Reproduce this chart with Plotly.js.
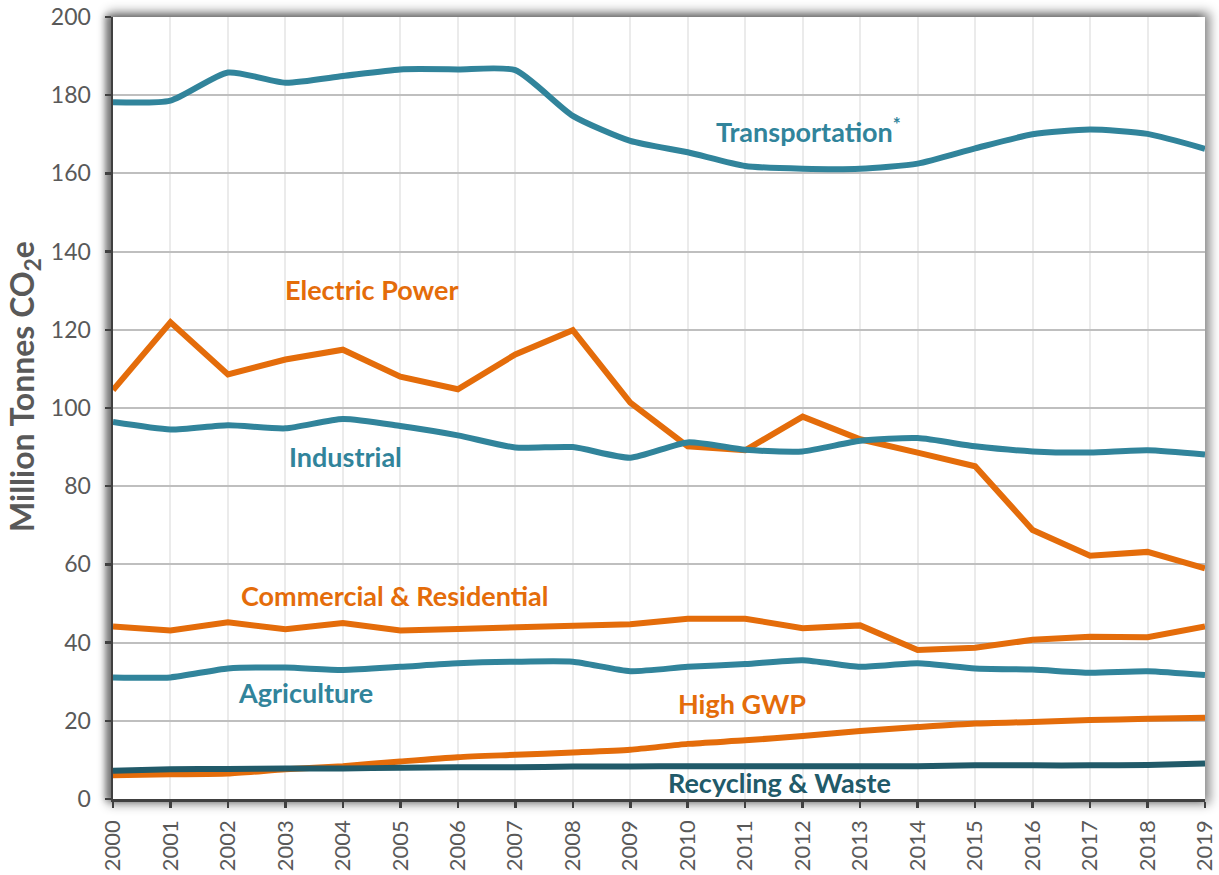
<!DOCTYPE html>
<html>
<head>
<meta charset="utf-8">
<script src="https://cdn.plot.ly/plotly-3.0.1.min.js"></script>
<style>
  html, body { margin: 0; padding: 0; background: #ffffff; }
  #wrap { position: relative; width: 1219px; height: 875px; }
  #shadow { position: absolute; left: 113px; top: 17px; width: 1092px; height: 782px;
            box-shadow: 0 0 10px 5px rgba(0,0,0,0.45), -6px 0 6px 2px rgba(0,0,0,0.3); background: #fff; }
  #chart { position: absolute; left: 0; top: 0; width: 1219px; height: 875px; }
</style>
</head>
<body>
<div id="wrap"><div id="shadow"></div><div id="chart"></div></div>
<script>
const years = [2000,2001,2002,2003,2004,2005,2006,2007,2008,2009,2010,2011,2012,2013,2014,2015,2016,2017,2018,2019];

const transportation = [178.2,178.6,185.8,183.2,184.9,186.6,186.6,186.4,174.7,168.3,165.4,161.9,161.2,161.2,162.5,166.4,170.0,171.2,170.1,166.3];
const electricPower  = [104.6,121.9,108.6,112.4,114.9,108.0,104.8,113.7,119.9,101.4,90.2,89.2,97.8,92.0,88.6,85.1,68.8,62.2,63.2,59.0];
const industrial     = [96.4,94.5,95.6,94.8,97.2,95.4,93.0,89.9,90.0,87.3,91.2,89.3,88.9,91.6,92.3,90.2,88.9,88.6,89.2,88.1];
const commercialRes  = [44.1,43.1,45.2,43.4,45.0,43.1,43.5,43.9,44.3,44.7,46.1,46.1,43.7,44.4,38.1,38.7,40.7,41.5,41.4,44.1];
const agriculture    = [31.1,31.1,33.4,33.6,33.0,33.8,34.7,35.1,35.1,32.7,33.8,34.5,35.5,33.8,34.7,33.4,33.1,32.3,32.7,31.7];
const highGWP        = [6.1,6.3,6.5,7.6,8.4,9.6,10.7,11.3,11.9,12.6,14.1,15.0,16.1,17.4,18.4,19.3,19.7,20.2,20.5,20.8];
const recyclingWaste = [7.2,7.6,7.7,7.8,7.8,8.0,8.1,8.1,8.3,8.3,8.4,8.4,8.4,8.4,8.4,8.6,8.6,8.6,8.7,9.1];

const seriesNames = ["Transportation","Electric Power","Industrial","Commercial & Residential","Agriculture","High GWP","Recycling & Waste"];
const labelTexts = ["Transportation<sup>*</sup>","Electric Power","Industrial","Commercial & Residential","Agriculture","High GWP","Recycling & Waste"];
const labelYears = [2012.1, 2004.5, 2004.05, 2004.9, 2003.35, 2010.95, 2011.6];
const labelValues = [171.2, 130.3, 87.5, 52.0, 27.3, 24.5, 4.3];

const yTicks = [0,20,40,60,80,100,120,140,160,180,200];
const yTitle = "Million Tonnes CO<sub>2</sub>e";

const TEAL = "#31849B", ORANGE = "#E46C0A", DARKTEAL = "#215A69";
const FONT = "Lato, 'Open Sans', sans-serif";

function line(y, name, color, shape) {
  return { x: years, y: y, name: name, type: "scatter", mode: "lines",
           line: { color: color, width: 6, shape: shape || "linear", smoothing: 0.6 },
           hoverinfo: "x+y+name" };
}

const data = [
  line(highGWP, seriesNames[5], ORANGE, "spline"),
  line(recyclingWaste, seriesNames[6], DARKTEAL, "spline"),
  line(agriculture, seriesNames[4], TEAL, "spline"),
  line(commercialRes, seriesNames[3], ORANGE),
  line(electricPower, seriesNames[1], ORANGE),
  line(industrial, seriesNames[2], TEAL, "spline"),
  line(transportation, seriesNames[0], TEAL, "spline")
];

const labelColors = [TEAL, ORANGE, TEAL, ORANGE, TEAL, ORANGE, DARKTEAL];
const annotations = labelTexts.map((t, i) => ({
  x: labelYears[i], y: labelValues[i], xref: "x", yref: "y",
  text: t, showarrow: false, xanchor: "center", yanchor: "middle",
  font: { family: FONT, size: 27, color: labelColors[i], weight: "bold" }
}));
annotations.push({
  x: 0, y: (799 - 387) / 782, xref: "paper", yref: "paper", xshift: -89, yshift: 0,
  text: yTitle, showarrow: false, textangle: -90, xanchor: "center", yanchor: "middle",
  font: { family: FONT, size: 32, color: "#595959", weight: "bold" }
});

const layout = {
  width: 1219, height: 875,
  margin: { l: 113, r: 14, t: 17, b: 76 },
  paper_bgcolor: "rgba(0,0,0,0)",
  plot_bgcolor: "#ffffff",
  showlegend: false,
  font: { family: FONT, color: "#595959" },
  xaxis: {
    range: [2000, 2019], tickvals: years, ticktext: years.map(String),
    tickangle: -90, tickfont: { family: FONT, size: 22, color: "#595959" },
    ticklabelstandoff: 4,
    showgrid: true, gridcolor: "#EBEBEB", gridwidth: 2,
    showline: true, linecolor: "#404040", linewidth: 2.5,
    ticks: "outside", ticklen: 6, tickwidth: 2.5, tickcolor: "#404040",
    zeroline: false, fixedrange: true
  },
  yaxis: {
    range: [0, 200], tickvals: yTicks,
    tickfont: { family: FONT, size: 23, color: "#595959" },
    ticklabelstandoff: 9,
    showgrid: true, gridcolor: "#BFBFBF", gridwidth: 2,
    showline: true, linecolor: "#404040", linewidth: 2.5,
    ticks: "outside", ticklen: 6, tickwidth: 2.5, tickcolor: "#404040",
    zeroline: false, fixedrange: true
  },
  annotations: annotations
};

Plotly.newPlot("chart", data, layout, { displayModeBar: false, staticPlot: true });
</script>
</body>
</html>
